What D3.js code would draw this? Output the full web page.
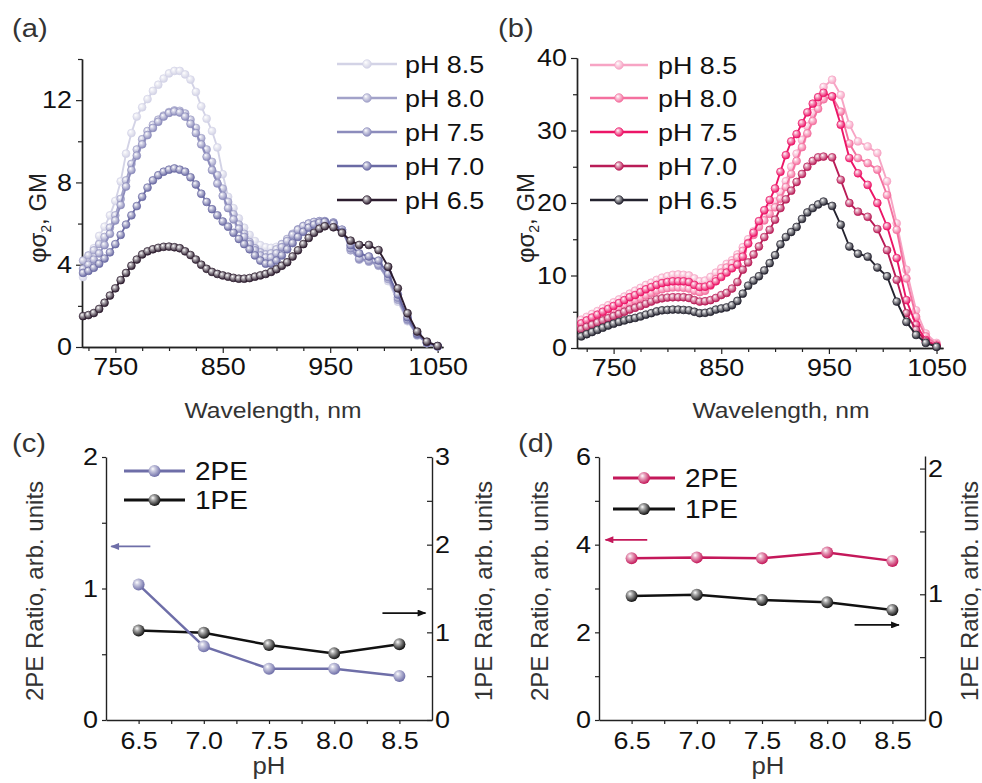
<!DOCTYPE html>
<html><head><meta charset="utf-8">
<script src="https://cdn.jsdelivr.net/npm/d3@7"></script>
<style>
body{margin:0;background:#fff}
svg{display:block}
text{font-family:"Liberation Sans",Arial,Helvetica,sans-serif}
</style>
</head><body>
<svg id="chart" width="982" height="783"></svg>
<script>
// ---------------- DATA ----------------
const wavelengths = [720,725,730,735,740,745,750,755,760,765,770,775,780,785,790,795,800,805,810,815,
  820,825,830,835,840,845,850,855,860,865,870,875,880,885,890,895,900,905,910,915,
  920,925,930,935,940,945,953,961,969,977,986,995,1004,1013,1022,1031,1040,1050];

const seriesLabels = ["pH 8.5","pH 8.0","pH 7.5","pH 7.0","pH 6.5"];

// Panel (a)
const aPH85 = [3.40,4.30,4.80,5.40,5.85,6.40,7.10,8.05,9.40,10.40, 11.20,11.65,12.05,12.45,12.75,13.05,13.30,13.42,13.42,13.25,
  13.00,12.40,11.70,11.10,10.50,9.70,8.40,7.30,6.75,6.25, 5.80,5.45,5.15,4.95,4.85,4.82,4.87,5.00,5.20,5.42,
  5.62,5.80,5.95,6.05,6.10,6.10, 6.05,5.70,4.85,4.55,4.20,4.00,3.20,2.20,1.25,0.55,0.18,0.02];
const aPH80 = [4.20,4.45,4.70,5.00,5.35,5.80,6.40,7.20,8.10,8.90, 9.60,10.10,10.50,10.80,11.05,11.25,11.42,11.50,11.48,11.35,
  11.05,10.65,10.15,9.60,9.00,8.35,7.70,7.05,6.45,5.95, 5.50,5.10,4.80,4.60,4.50,4.55,4.75,5.00,5.25,5.50,
  5.72,5.88,6.00,6.07,6.10,6.10, 6.05,5.70,4.70,4.25,4.15,3.95,3.30,2.30,1.30,0.58,0.20,0.03];
const aPH75 = [3.80,4.00,4.25,4.55,4.95,5.50,6.15,6.90,7.80,8.60, 9.30,9.85,10.30,10.65,10.95,11.20,11.38,11.45,11.40,11.20,
  10.85,10.40,9.85,9.25,8.60,7.95,7.35,6.75,6.20,5.75, 5.35,5.00,4.70,4.45,4.35,4.35,4.55,4.85,5.15,5.45,
  5.70,5.88,6.00,6.08,6.12,6.12, 6.05,5.70,4.80,4.30,4.20,4.00,3.40,2.40,1.35,0.60,0.20,0.03];
const aPH70 = [3.60,3.70,3.85,4.05,4.30,4.60,5.00,5.45,5.95,6.40, 6.85,7.30,7.75,8.10,8.35,8.52,8.62,8.68,8.62,8.52,
  8.25,7.90,7.45,7.05,6.70,6.40,6.10,5.85,5.55,5.25, 5.00,4.75,4.45,4.20,4.05,4.05,4.20,4.45,4.75,5.05,
  5.35,5.60,5.80,5.95,6.05,6.08, 6.00,5.60,4.95,4.55,4.40,4.20,3.55,2.55,1.45,0.65,0.22,0.04];
const aPH65 = [1.50,1.55,1.65,1.85,2.15,2.50,2.85,3.25,3.60,3.95, 4.25,4.50,4.65,4.75,4.82,4.87,4.88,4.85,4.80,4.65,
  4.47,4.25,4.00,3.80,3.65,3.55,3.48,3.42,3.36,3.32, 3.32,3.35,3.42,3.48,3.55,3.65,3.78,3.95,4.12,4.40,
  4.70,5.00,5.30,5.55,5.75,5.87, 5.82,5.55,5.17,4.96,4.96,4.71,3.90,2.85,1.64,0.75,0.26,0.05];

// Panel (b)
const bPH85 = [3.90,4.30,4.70,5.10,5.50,5.90,6.30,6.70,7.10,7.50, 7.90,8.30,8.70,9.00,9.40,9.70,9.90,10.10,10.15,10.10,
  10.00,9.60,9.20,9.30,9.80,10.40,11.00,11.60,12.10,12.90, 13.90,15.00,16.10,17.20,18.20,19.20,20.20,21.50,23.00,25.00,
  26.80,28.70,30.60,32.40,34.20,36.00, 37.00,34.90,30.80,28.50,27.80,26.90,23.00,17.20,10.80,5.20,2.00,0.70];
const bPH80 = [3.10,3.45,3.80,4.15,4.50,4.85,5.20,5.55,5.90,6.25, 6.60,6.90,7.25,7.60,7.90,8.10,8.25,8.35,8.35,8.30,
  8.20,7.90,7.70,7.90,8.60,9.50,10.40,11.10,11.70,12.50, 13.40,14.50,15.60,16.70,17.60,18.50,19.40,20.60,22.20,24.00,
  25.80,27.70,29.60,31.30,33.00,34.30, 34.70,32.60,28.20,26.20,25.50,24.60,21.10,16.30,9.60,4.30,1.60,0.50];
const bPH75 = [3.40,3.80,4.20,4.60,5.00,5.40,5.80,6.20,6.60,7.00, 7.30,7.70,8.10,8.40,8.70,8.95,9.10,9.20,9.20,9.20,
  9.10,8.70,8.40,8.45,8.70,9.20,9.80,10.40,11.00,11.50, 12.60,14.40,15.90,17.50,19.00,20.40,22.00,24.30,26.60,28.50,
  29.50,31.00,32.50,33.70,34.60,35.20, 34.70,30.80,26.20,24.10,22.50,20.00,16.80,12.40,6.60,3.20,1.10,0.30];
const bPH70 = [2.60,2.90,3.20,3.50,3.80,4.10,4.40,4.70,5.00,5.30, 5.55,5.80,6.10,6.40,6.70,6.85,6.95,7.00,7.00,7.00,
  6.90,6.60,6.40,6.45,6.60,6.90,7.30,7.60,8.20,9.10, 10.80,11.80,12.90,14.00,15.30,16.30,17.70,19.30,20.50,21.70,
  22.90,24.00,25.00,25.80,26.30,26.40, 26.30,23.20,20.00,18.80,18.10,16.40,13.50,9.40,4.80,2.50,0.90,0.30];
const bPH65 = [1.60,1.90,2.20,2.50,2.80,3.10,3.35,3.60,3.80,4.00, 4.15,4.35,4.60,4.80,5.05,5.20,5.25,5.30,5.30,5.25,
  5.20,5.00,4.80,4.85,5.00,5.30,5.45,5.60,5.90,6.50, 7.50,8.60,9.30,9.90,10.70,11.70,12.80,14.30,15.30,16.00,
  16.70,17.80,18.70,19.30,19.80,20.20, 19.60,17.00,14.00,13.00,12.60,11.10,9.90,6.40,3.60,1.80,0.70,0.15];

// Panels (c), (d)
const phValues = [6.5, 7.0, 7.5, 8.0, 8.5];
const c2PE = [1.03, 0.56, 0.39, 0.39, 0.335];
const c1PE = [1.02, 0.995, 0.855, 0.76, 0.865];
const d2PE = [3.69, 3.71, 3.69, 3.82, 3.63];
const d1PE = [0.987, 0.997, 0.955, 0.936, 0.875];

const aColors = ["#d3d3e6","#a2a2c9","#8c8cbc","#6a6aa4","#2c1c2e"];
const bColors = ["#f7a4c4","#f4709f","#ec1567","#b91c57","#24232f"];
const c2Color = "#6e6ea8", d2Color = "#c4185a", oneColor = "#111111";

const aTicksMajor = [750,850,950,1050], aTicksMinor = [725,775,800,825,875,900,925,975,1000,1025];

// ---------------- DRAW ----------------
const svg = d3.select("#chart");
const defs = svg.append("defs");
let gid = 0;
function sphere(color){
  const id = "g" + (gid++);
  const g = defs.append("radialGradient").attr("id", id)
    .attr("cx","0.4").attr("cy","0.38").attr("r","0.62").attr("fx","0.36").attr("fy","0.32");
  g.append("stop").attr("offset","0").attr("stop-color","#ffffff");
  g.append("stop").attr("offset","0.3").attr("stop-color",d3.interpolateRgb("#ffffff",color)(0.35));
  g.append("stop").attr("offset","1").attr("stop-color",color);
  return `url(#${id})`;
}
function arrowMarker(id, color){
  defs.append("marker").attr("id",id).attr("viewBox","0 0 10 8").attr("refX",9).attr("refY",4)
    .attr("markerWidth",11).attr("markerHeight",7).attr("markerUnits","userSpaceOnUse").attr("orient","auto")
    .append("path").attr("d","M0,0L10,4L0,8Z").attr("fill",color);
}
arrowMarker("arC", c2Color); arrowMarker("arK", "#111"); arrowMarker("arD", d2Color);

const axisColor = "#222";
function styleAxis(g, fs){
  g.select(".domain").attr("stroke",axisColor).attr("stroke-width",1.4);
  g.selectAll(".tick line").attr("stroke",axisColor).attr("stroke-width",1.2);
  g.selectAll(".tick text").attr("fill","#111").style("font-size",(fs||24)+"px").style("font-family",'"Liberation Sans",Arial,sans-serif');
}

function spectrumPanel(opt){
  const x = d3.scaleLinear().domain(opt.xDomain).range(opt.xRange);
  const y = d3.scaleLinear().domain(opt.yDomain).range(opt.yRange);
  const g = svg.append("g");
  const xb = g.append("g").attr("transform",`translate(0,${opt.yRange[0]})`);
  xb.call(d3.axisBottom(x).tickValues(aTicksMinor).tickSize(4).tickSizeOuter(0).tickFormat(""));
  styleAxis(xb);
  const xa = g.append("g").attr("transform",`translate(0,${opt.yRange[0]})`);
  xa.call(d3.axisBottom(x).tickValues(aTicksMajor).tickSize(6).tickPadding(5).tickSizeOuter(0).tickFormat(d3.format("d")));
  styleAxis(xa);
  const yb = g.append("g").attr("transform",`translate(${opt.xRange[0]},0)`);
  yb.call(d3.axisLeft(y).tickValues(opt.yMinor).tickSize(4).tickSizeOuter(0).tickFormat(""));
  styleAxis(yb);
  const ya = g.append("g").attr("transform",`translate(${opt.xRange[0]},0)`);
  ya.call(d3.axisLeft(y).tickValues(opt.yMajor).tickSize(6).tickPadding(4).tickSizeOuter(0).tickFormat(d3.format("d")));
  styleAxis(ya);

  const line = d3.line().x((d,i)=>x(wavelengths[i])).y(d=>y(d));
  opt.series.forEach((s,k)=>{
    const col = opt.colors[k];
    const fill = sphere(col);
    g.append("path").datum(s).attr("d",line).attr("fill","none").attr("stroke",col).attr("stroke-width",1.9);
    g.append("g").selectAll("circle").data(s).join("circle")
      .attr("cx",(d,i)=>x(wavelengths[i])).attr("cy",d=>y(d)).attr("r",3.9)
      .attr("fill",fill).attr("stroke",col).attr("stroke-width",0.7);
  });
  seriesLabels.forEach((lab,k)=>{
    const col = opt.colors[k], yy = opt.legY[k];
    g.append("line").attr("x1",opt.legX[0]).attr("x2",opt.legX[1]).attr("y1",yy).attr("y2",yy)
      .attr("stroke",col).attr("stroke-width",2.4);
    g.append("circle").attr("cx",(opt.legX[0]+opt.legX[1])/2).attr("cy",yy).attr("r",4.3)
      .attr("fill",sphere(col)).attr("stroke",col).attr("stroke-width",0.7);
    g.append("text").attr("x",opt.legX[2]).attr("y",yy).attr("dy","0.36em").style("font-size","24px")
      .attr("fill","#111").text(lab);
  });
  g.append("text").attr("x",opt.xTitle[0]).attr("y",opt.xTitle[1]).attr("text-anchor","middle")
    .style("font-size","22px").attr("fill","#333").text("Wavelength, nm");
  const yt = g.append("text").attr("class","rot").attr("transform",`translate(${opt.yTitle[0]},${opt.yTitle[1]}) rotate(-90)`)
    .attr("text-anchor","middle").attr("dy","0.36em").style("font-size","24px").attr("fill","#222");
  yt.append("tspan").text("φσ");
  yt.append("tspan").attr("dy","5").style("font-size","14px").text("2");
  yt.append("tspan").attr("dy","-5").text(", GM");
  g.append("text").attr("x",opt.panel[0]).attr("y",opt.panel[1]).style("font-size","26px").attr("fill","#333").text(opt.panel[2]);
}

spectrumPanel({
  xDomain:[719,1055], xRange:[82,443], yDomain:[0,14], yRange:[347,59],
  yMajor:[0,4,8,12], yMinor:[2,6,10,14],
  series:[aPH85,aPH80,aPH75,aPH70,aPH65], colors:aColors,
  legX:[337,397,405], legY:[64,98,132,166,200],
  xTitle:[273,418], yTitle:[37,218], panel:[12,37,"(a)"]
});
spectrumPanel({
  xDomain:[716,1056], xRange:[577,943], yDomain:[0,40], yRange:[348,58],
  yMajor:[0,10,20,30,40], yMinor:[5,15,25,35],
  series:[bPH85,bPH80,bPH75,bPH70,bPH65], colors:bColors,
  legX:[590,648,658], legY:[65,98,132,166,200],
  xTitle:[781,418], yTitle:[525,218], panel:[498,37,"(b)"]
});

function ratioPanel(opt){
  const x = d3.scaleLinear().domain([6.25,8.75]).range(opt.xRange);
  const yL = d3.scaleLinear().domain(opt.yLDomain).range([720,457]);
  const yR = d3.scaleLinear().domain(opt.yRDomain).range([720,opt.yRTop]);
  const g = svg.append("g");
  const xa = g.append("g").attr("transform","translate(0,720)");
  xa.call(d3.axisBottom(x).tickValues([6.5,6.75,7,7.25,7.5,7.75,8,8.25,8.5]).tickSize(4).tickPadding(8).tickSizeOuter(0)
    .tickFormat(d => (d*2)%1===0 ? d3.format(".1f")(d) : ""));
  styleAxis(xa);
  const la = g.append("g").attr("transform",`translate(${opt.xRange[0]},0)`);
  la.call(d3.axisLeft(yL).tickValues(opt.yLTicks).tickSize(4).tickPadding(4).tickSizeOuter(0)
    .tickFormat(d => Number.isInteger(d) && opt.yLLabels.includes(d) ? d : ""));
  styleAxis(la);
  const ra = g.append("g").attr("transform",`translate(${opt.xRange[1]},0)`);
  ra.call(d3.axisRight(yR).tickValues(opt.yRTicks).tickSize(-5).tickPadding(3).tickSizeOuter(0)
    .tickFormat(d => Number.isInteger(d) ? d : ""));
  styleAxis(ra);

  const line2 = d3.line().x((d,i)=>x(phValues[i])).y(d=>yL(d));
  const line1 = d3.line().x((d,i)=>x(phValues[i])).y(d=>yR(d));
  const f2 = sphere(opt.color2), f1 = sphere(oneColor);
  g.append("path").datum(opt.one).attr("d",line1).attr("fill","none").attr("stroke",oneColor).attr("stroke-width",2.5);
  g.append("path").datum(opt.two).attr("d",line2).attr("fill","none").attr("stroke",opt.color2).attr("stroke-width",2.5);
  g.append("g").selectAll("circle").data(opt.one).join("circle")
    .attr("cx",(d,i)=>x(phValues[i])).attr("cy",d=>yR(d)).attr("r",6).attr("fill",f1);
  g.append("g").selectAll("circle").data(opt.two).join("circle")
    .attr("cx",(d,i)=>x(phValues[i])).attr("cy",d=>yL(d)).attr("r",6).attr("fill",f2);

  g.append("line").attr("x1",x(opt.arrL[1])).attr("x2",x(opt.arrL[0])).attr("y1",yL(opt.arrL[2])).attr("y2",yL(opt.arrL[2]))
    .attr("stroke",opt.color2).attr("stroke-width",1.8).attr("marker-end",`url(#${opt.arrId})`);
  g.append("line").attr("x1",x(opt.arrR[0])).attr("x2",x(opt.arrR[1])).attr("y1",yR(opt.arrR[2])).attr("y2",yR(opt.arrR[2]))
    .attr("stroke","#111").attr("stroke-width",1.8).attr("marker-end","url(#arK)");

  [["2PE",opt.color2,f2],["1PE",oneColor,f1]].forEach((e,k)=>{
    const yy = opt.legY[k];
    g.append("line").attr("x1",opt.legX[0]).attr("x2",opt.legX[1]).attr("y1",yy).attr("y2",yy).attr("stroke",e[1]).attr("stroke-width",2.8);
    g.append("circle").attr("cx",(opt.legX[0]+opt.legX[1])/2).attr("cy",yy).attr("r",6).attr("fill",e[2]);
    g.append("text").attr("x",opt.legX[2]).attr("y",yy).attr("dy","0.36em").style("font-size","25px").attr("fill","#111").text(e[0]);
  });
  g.append("text").attr("x",opt.pH[0]).attr("y",774).attr("text-anchor","middle").style("font-size","23px").attr("fill","#333").text("pH");
  g.append("text").attr("class","rot").attr("transform",`translate(${opt.titleL},591) rotate(-90)`).attr("text-anchor","middle").attr("dy","0.36em")
    .style("font-size","24px").attr("fill","#333").text("2PE Ratio, arb. units");
  g.append("text").attr("class","rot").attr("transform",`translate(${opt.titleR},591) rotate(-90)`).attr("text-anchor","middle").attr("dy","0.36em")
    .style("font-size","24px").attr("fill","#333").text("1PE Ratio, arb. units");
  g.append("text").attr("x",opt.panel[0]).attr("y",452).style("font-size","26px").attr("fill","#333").text(opt.panel[1]);
}

ratioPanel({
  xRange:[106,432], yLDomain:[0,2], yRDomain:[0,3], yRTop:457,
  yLTicks:[0,0.5,1,1.5,2], yLLabels:[0,1,2], yRTicks:[0,0.5,1,1.5,2,2.5,3],
  two:c2PE, one:c1PE, color2:c2Color, arrId:"arC",
  arrL:[6.29,6.59,1.32], arrR:[8.37,8.70,1.22],
  legX:[124,185,195], legY:[471,500], pH:[269], titleL:34, titleR:483, panel:[12,"(c)"]
});
ratioPanel({
  xRange:[599,925], yLDomain:[0,6], yRDomain:[0,2.1], yRTop:456,
  yLTicks:[0,1,2,3,4,5,6], yLLabels:[0,2,4,6], yRTicks:[0,0.5,1,1.5,2],
  two:d2PE, one:d1PE, color2:d2Color, arrId:"arD",
  arrL:[6.30,6.62,4.11], arrR:[8.21,8.55,0.756],
  legX:[613,675,685], legY:[478,509], pH:[768], titleL:539, titleR:969, panel:[518,"(d)"]
});

// the reference's lettering is slightly wide: stretch horizontal text glyphs
svg.selectAll("text:not(.rot)").each(function(){
  const len = this.getComputedTextLength();
  if (len > 0) d3.select(this).attr("textLength", (len*1.12).toFixed(1)).attr("lengthAdjust","spacingAndGlyphs");
});
</script>
</body></html>
